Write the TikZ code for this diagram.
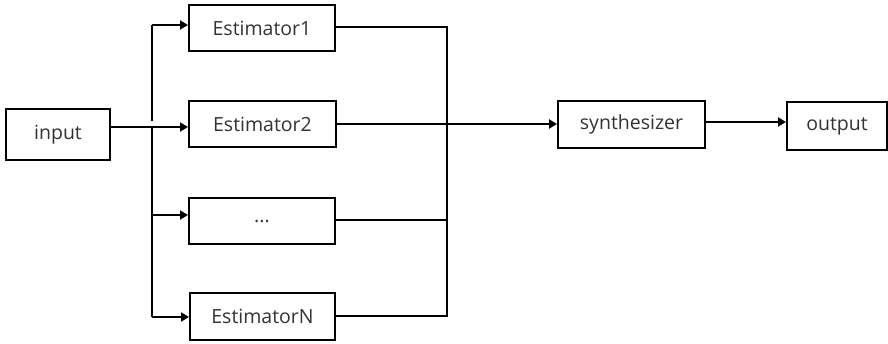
\documentclass[tikz,border=0pt]{standalone}
\usepackage{fontspec}
\setmainfont{Open Sans}
\usetikzlibrary{arrows.meta}
\begin{document}
\begin{tikzpicture}[x=1pt,y=-1pt,
  box/.style={draw=black,line width=2pt,minimum width=#1,minimum height=46pt,inner sep=0pt,
    font=\fontsize{19.5}{22}\selectfont,text=black!80},
  conn/.style={line width=2pt},
  arr/.style={conn,-{Triangle[length=8pt,width=9pt]}}]
\useasboundingbox (0,0) rectangle (888,343);
\node[box=104pt,minimum height=51pt] (input) at (58,134.5) {input};
\node[box=146pt] (e1) at (262,28) {Estimator1};
\node[box=147pt] (e2) at (262.5,124) {Estimator2};
\node[box=146pt] (ed) at (262,221) {...};
\node[box=145pt,minimum height=47pt] (en) at (262.5,316.5) {EstimatorN};
\node[box=147pt,minimum height=47pt] (syn) at (631.5,124.5) {synthesizer};
\node[box=100pt,minimum height=48pt] (out) at (837,126) {output};
% left bus
\coordinate (lt) at (152,25);
\coordinate (lg1) at (152,120.5);
\coordinate (lg2) at (152,126);
\coordinate (lb) at (152,317);
\draw[conn] (lt) -- (lg1);
\draw[conn] (lg2) -- (lb);
\draw[arr] (lt) -- (e1.west |- lt);
\draw[arr] (input.east |- 0,127) -- (e2.west |- 0,127);
\draw[arr] (152,215) -- (ed.west |- 0,215);
\draw[arr] (lb) -- (en.west |- lb);
% right bus
\coordinate (rt) at (447,27);
\coordinate (rd) at (447,220);
\coordinate (rb) at (447,316);
\draw[conn] (e1.east |- rt) -- (rt) -- (rb) -- (en.east |- rb);
\draw[conn] (ed.east |- rd) -- (rd);
\draw[arr] (e2.east) -- (syn.west |- e2.east);
\draw[arr] (syn.east |- 0,122) -- (out.west |- 0,122);
\end{tikzpicture}
\end{document}
